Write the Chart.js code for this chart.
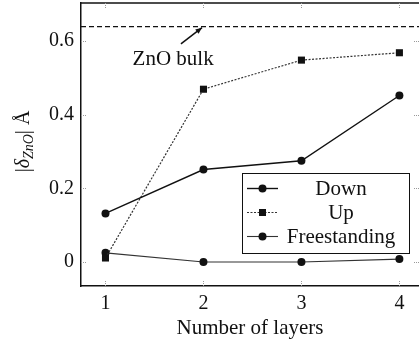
<!DOCTYPE html>
<html>
<head>
<meta charset="utf-8">
<script src="https://cdn.jsdelivr.net/npm/chart.js@4/dist/chart.umd.min.js"></script>
<style>
  html, body { margin: 0; padding: 0; background: #fff; }
  #wrap { width: 419px; height: 343px; position: relative; }
</style>
</head>
<body>
<div id="wrap"><canvas id="layersChart"></canvas></div>
<script>
// displacement vs number of layers
var layers = [1, 2, 3, 4];
var downValues = [0.132, 0.251, 0.275, 0.452];
var upValues = [0.011, 0.469, 0.548, 0.568];
var freeValues = [0.025, 0.0, 0.0, 0.008];
var bulkValue = 0.639;
var seriesLabels = ['Down', 'Up', 'Freestanding'];
var xTicks = [1, 2, 3, 4];
var yTicks = [0, 0.2, 0.4, 0.6];
var bulkLabel = 'ZnO bulk';

var FONT = '"Liberation Serif", "Times New Roman", serif';
var INK = '#111';

function toPoints(values) {
	var pts = [];
	for (var i = 0; i < layers.length; i++) {
		pts.push({ x: layers[i], y: values[i] });
	}
	return pts;
}

var xMin = 0.75, xMax = 4.2;

var datasets = [
	{
		label: seriesLabels[0],
		data: toPoints(downValues),
		borderColor: INK, backgroundColor: INK,
		borderWidth: 1.4,
		pointStyle: 'circle', pointRadius: 4, pointBorderWidth: 0
	},
	{
		label: seriesLabels[1],
		data: toPoints(upValues),
		borderColor: '#333', backgroundColor: INK,
		borderWidth: 1.2, borderDash: [2, 1.5],
		pointStyle: 'rect', pointRadius: 5, pointBorderWidth: 0
	},
	{
		label: seriesLabels[2],
		data: toPoints(freeValues),
		borderColor: '#333', backgroundColor: INK,
		borderWidth: 1.1,
		pointStyle: 'circle', pointRadius: 4, pointBorderWidth: 0
	},
	{
		// bulk reference line
		label: bulkLabel,
		data: [{ x: xMin, y: bulkValue }, { x: xMax, y: bulkValue }],
		borderColor: INK,
		borderWidth: 1.3, borderDash: [5, 3],
		pointRadius: 0,
		isReference: true
	}
];

// frame top edge, inner ticks, annotation, y title, legend
var decorPlugin = {
	id: 'decor',
	afterDatasetsDraw: function(chart) {
		var ctx = chart.ctx;
		var area = chart.chartArea;
		var xs = chart.scales.x, ys = chart.scales.y;

		ctx.save();
		// top border
		ctx.strokeStyle = INK;
		ctx.lineWidth = 1.5;
		ctx.beginPath();
		ctx.moveTo(area.left, area.top);
		ctx.lineTo(area.right, area.top);
		ctx.stroke();

		// small ticks pointing inward
		ctx.strokeStyle = '#999';
		ctx.lineWidth = 1;
		ctx.setLineDash([1, 1]);
		var tl = 6;
		xTicks.forEach(function(v) {
			var px = Math.round(xs.getPixelForValue(v)) + 0.5;
			ctx.beginPath();
			ctx.moveTo(px, area.bottom); ctx.lineTo(px, area.bottom - tl);
			ctx.moveTo(px, area.top); ctx.lineTo(px, area.top + tl);
			ctx.stroke();
		});
		yTicks.forEach(function(v) {
			var py = Math.round(ys.getPixelForValue(v)) + 0.5;
			ctx.beginPath();
			ctx.moveTo(area.left, py); ctx.lineTo(area.left + tl, py);
			ctx.moveTo(area.right, py); ctx.lineTo(area.right - tl, py);
			ctx.stroke();
		});
		ctx.setLineDash([]);

		// arrow from label to bulk line
		var ax0 = xs.getPixelForValue(1.77), ay0 = ys.getPixelForValue(0.592);
		var ax1 = xs.getPixelForValue(1.985), ay1 = ys.getPixelForValue(0.636);
		ctx.strokeStyle = INK;
		ctx.fillStyle = INK;
		ctx.lineWidth = 1.5;
		ctx.beginPath();
		ctx.moveTo(ax0, ay0); ctx.lineTo(ax1, ay1);
		ctx.stroke();
		var ang = Math.atan2(ay1 - ay0, ax1 - ax0);
		var hl = 7;
		ctx.beginPath();
		ctx.moveTo(ax1, ay1);
		ctx.lineTo(ax1 - hl * Math.cos(ang - 0.4), ay1 - hl * Math.sin(ang - 0.4));
		ctx.lineTo(ax1 - hl * Math.cos(ang + 0.4), ay1 - hl * Math.sin(ang + 0.4));
		ctx.closePath();
		ctx.fill();

		ctx.font = '21px ' + FONT;
		ctx.textAlign = 'center';
		ctx.textBaseline = 'alphabetic';
		ctx.fillText(bulkLabel, xs.getPixelForValue(1.69), ys.getPixelForValue(0.535));

		// y axis title |δ_ZnO| Å
		drawYTitle(ctx, 29, (area.top + area.bottom) / 2 - 3);

		// legend
		drawLegend(ctx, chart, area.right - 177, area.bottom - 113);
		ctx.restore();
	}
};

function drawYTitle(ctx, x, yc) {
	var parts = [
		{ t: '|', f: '20px ' + FONT, dy: 0 },
		{ t: 'δ', f: 'italic 20px ' + FONT, dy: 0 },
		{ t: 'ZnO', f: 'italic 14px ' + FONT, dy: 4 },
		{ t: '|', f: '20px ' + FONT, dy: 0 },
		{ t: ' Å', f: '20px ' + FONT, dy: 0 }
	];
	var total = 0;
	parts.forEach(function(p) {
		ctx.font = p.f;
		p.w = ctx.measureText(p.t).width;
		total += p.w;
	});
	ctx.save();
	ctx.translate(x, yc);
	ctx.rotate(-Math.PI / 2);
	ctx.fillStyle = INK;
	ctx.textAlign = 'left';
	ctx.textBaseline = 'alphabetic';
	var cx = -total / 2;
	parts.forEach(function(p) {
		ctx.font = p.f;
		ctx.fillText(p.t, cx, p.dy);
		cx += p.w;
	});
	ctx.restore();
}

function drawLegend(ctx, chart, left, top) {
	var w = 167, h = 80, rowH = 24;
	ctx.fillStyle = '#fff';
	ctx.fillRect(left, top, w, h);
	ctx.strokeStyle = INK;
	ctx.lineWidth = 1;
	ctx.strokeRect(left + 0.5, top + 0.5, w, h);

	var sets = chart.data.datasets.filter(function(d) { return !d.isReference; });
	sets.forEach(function(d, i) {
		var y = top + 15.5 + i * rowH;
		ctx.strokeStyle = d.borderColor;
		ctx.lineWidth = d.borderWidth;
		ctx.setLineDash(d.borderDash || []);
		ctx.beginPath();
		ctx.moveTo(left + 5, y);
		ctx.lineTo(left + 36, y);
		ctx.stroke();
		ctx.setLineDash([]);
		ctx.fillStyle = d.backgroundColor;
		var mx = left + 20.5;
		if (d.pointStyle === 'rect') {
			ctx.fillRect(mx - 3.5, y - 3.5, 7, 7);
		} else {
			ctx.beginPath();
			ctx.arc(mx, y, 4, 0, Math.PI * 2);
			ctx.fill();
		}
		ctx.fillStyle = INK;
		ctx.font = '21px ' + FONT;
		ctx.textAlign = 'center';
		ctx.textBaseline = 'middle';
		ctx.fillText(d.label, left + 99, y + 1);
	});
}

new Chart(document.getElementById('layersChart'), {
	type: 'line',
	data: { datasets: datasets },
	plugins: [decorPlugin],
	options: {
		responsive: true,
		maintainAspectRatio: false,
		animation: false,
		layout: { autoPadding: false, padding: { top: 3, right: 0, bottom: 0, left: 0 } },
		plugins: {
			legend: { display: false },
			tooltip: { enabled: false }
		},
		scales: {
			x: {
				type: 'linear',
				min: xMin, max: xMax,
				afterBuildTicks: function(scale) {
					scale.ticks = xTicks.map(function(v) { return { value: v }; });
				},
				afterFit: function(scale) {
					scale.height = 57;
					scale.paddingLeft = 0;
					scale.paddingRight = 0;
				},
				grid: { display: false, drawTicks: false },
				border: { display: true, color: INK, width: 1.5 },
				ticks: {
					color: INK, padding: 6,
					font: { family: FONT, size: 20 },
					callback: function(v) { return String(v); }
				},
				title: {
					display: true,
					text: 'Number of layers',
					color: INK,
					font: { family: FONT, size: 21 },
					padding: { top: 0, bottom: 2 }
				}
			},
			y: {
				type: 'linear',
				min: -0.065, max: 0.703,
				afterBuildTicks: function(scale) {
					scale.ticks = yTicks.map(function(v) { return { value: v }; });
				},
				afterFit: function(scale) {
					scale.width = 81;
					scale.paddingTop = 0;
					scale.paddingBottom = 0;
				},
				grid: { display: false, drawTicks: false },
				border: { display: true, color: INK, width: 1.5 },
				ticks: {
					color: INK, padding: 7,
					font: { family: FONT, size: 20 },
					callback: function(v) { return String(v); }
				}
			}
		}
	}
});
</script>
</body>
</html>
